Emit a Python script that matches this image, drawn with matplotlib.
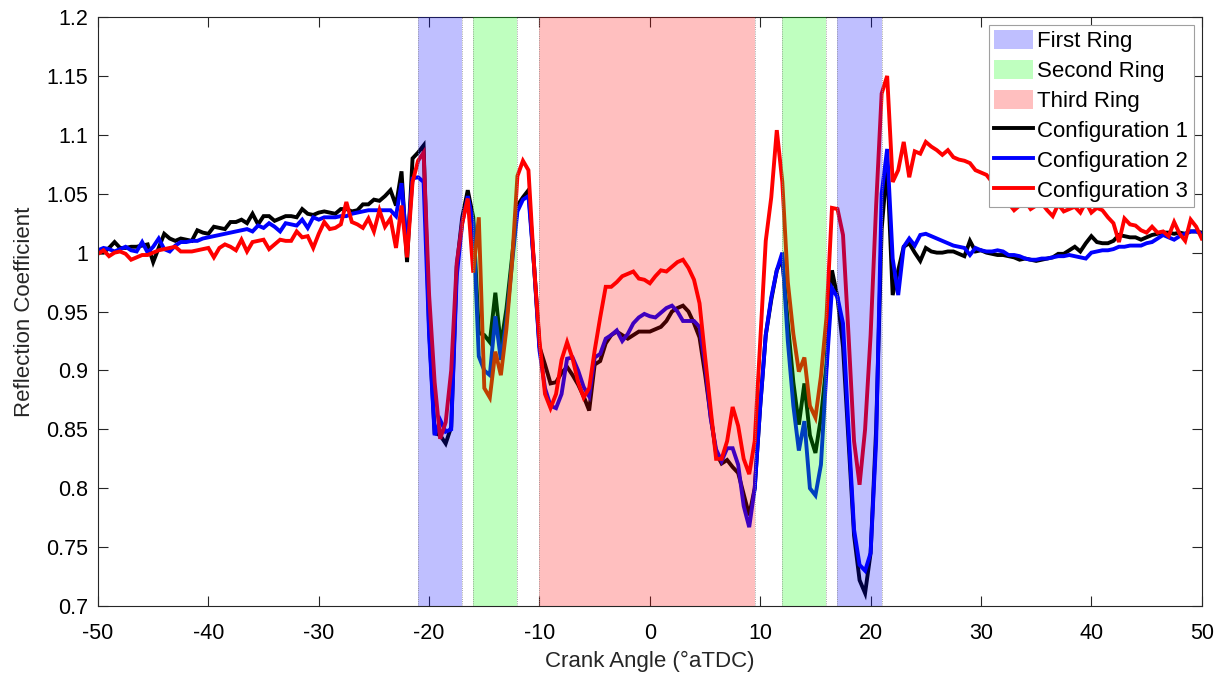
import numpy as np
import matplotlib
matplotlib.use("Agg")
import matplotlib.pyplot as plt

plt.rcParams['font.family'] = ['Liberation Sans', 'DejaVu Sans']

# Crank angle grid (degrees after TDC), 0.5 degree resolution
angle_start, angle_stop, angle_step = -50.0, 50.0, 0.5
crank_angle = np.arange(angle_start, angle_stop + angle_step / 2, angle_step)

config1 = [
    1.000, 1.000, 1.004, 1.009, 1.004, 1.004, 1.005, 1.005, 1.006, 1.007,
    0.992, 1.004, 1.016, 1.012, 1.010, 1.012, 1.011, 1.010, 1.019, 1.017,
    1.016, 1.022, 1.021, 1.020, 1.026, 1.026, 1.028, 1.025, 1.033, 1.024,
    1.031, 1.031, 1.027, 1.029, 1.031, 1.031, 1.030, 1.037, 1.033, 1.032,
    1.034, 1.035, 1.034, 1.033, 1.037, 1.037, 1.035, 1.036, 1.041, 1.041,
    1.045, 1.044, 1.048, 1.053, 1.040, 1.069, 0.992, 1.080, 1.085, 1.091,
    0.935, 0.847, 0.845, 0.838, 0.852, 0.988, 1.030, 1.053, 1.030, 0.932,
    0.930, 0.924, 0.966, 0.921, 0.952, 0.995, 1.040, 1.047, 1.053, 0.990,
    0.920, 0.905, 0.889, 0.890, 0.898, 0.903, 0.896, 0.888, 0.878, 0.866,
    0.905, 0.908, 0.923, 0.930, 0.933, 0.930, 0.927, 0.930, 0.933, 0.933,
    0.933, 0.935, 0.937, 0.942, 0.950, 0.953, 0.955, 0.950, 0.940, 0.928,
    0.897, 0.862, 0.830, 0.821, 0.824, 0.818, 0.813, 0.795, 0.777, 0.800,
    0.870, 0.930, 0.960, 0.985, 0.995, 0.940, 0.890, 0.854, 0.889, 0.845,
    0.830, 0.860, 0.905, 0.985, 0.962, 0.920, 0.840, 0.760, 0.722, 0.711,
    0.745, 0.850, 1.020, 1.075, 0.964, 0.985, 1.005, 1.008, 1.000, 0.993,
    1.004, 1.001, 1.000, 1.000, 1.001, 1.001, 0.999, 0.997, 1.010, 1.001,
    1.002, 1.000, 0.999, 0.998, 0.998, 0.997, 0.996, 0.994, 0.995, 0.994,
    0.993, 0.994, 0.995, 0.996, 0.999, 0.999, 1.002, 1.005, 1.001, 1.008,
    1.014, 1.009, 1.008, 1.008, 1.010, 1.015, 1.014, 1.013, 1.013, 1.011,
    1.013, 1.015, 1.016, 1.017, 1.017, 1.016, 1.017, 1.016, 1.018, 1.018,
    1.017,
]

config2 = [
    1.002, 1.004, 1.003, 1.001, 1.003, 1.005, 1.002, 1.001, 1.009, 1.000,
    1.005, 1.012, 1.003, 1.001, 1.006, 1.009, 1.009, 1.010, 1.010, 1.012,
    1.013, 1.014, 1.015, 1.016, 1.017, 1.018, 1.019, 1.020, 1.018, 1.023,
    1.021, 1.025, 1.022, 1.018, 1.025, 1.024, 1.023, 1.028, 1.021, 1.030,
    1.028, 1.030, 1.030, 1.030, 1.031, 1.031, 1.033, 1.034, 1.035, 1.036,
    1.036, 1.036, 1.036, 1.036, 1.031, 1.059, 1.003, 1.063, 1.064, 1.060,
    0.930, 0.845, 0.858, 0.848, 0.850, 0.980, 1.025, 1.048, 1.025, 0.912,
    0.900, 0.896, 0.946, 0.909, 0.942, 0.990, 1.035, 1.045, 1.048, 0.990,
    0.917, 0.885, 0.870, 0.868, 0.880, 0.910, 0.911, 0.900, 0.886, 0.878,
    0.911, 0.914, 0.927, 0.930, 0.934, 0.925, 0.931, 0.940, 0.945, 0.948,
    0.946, 0.945, 0.949, 0.953, 0.955, 0.950, 0.942, 0.942, 0.942, 0.937,
    0.905, 0.860, 0.833, 0.823, 0.834, 0.834, 0.820, 0.785, 0.767, 0.800,
    0.870, 0.930, 0.962, 0.985, 1.000, 0.925, 0.870, 0.832, 0.857, 0.800,
    0.794, 0.820, 0.900, 0.970, 0.962, 0.940, 0.850, 0.765, 0.735, 0.730,
    0.745, 0.840, 1.050, 1.088, 0.995, 0.964, 1.005, 1.012, 1.006, 1.015,
    1.016, 1.014, 1.012, 1.010, 1.008, 1.006, 1.005, 1.004, 0.998, 1.004,
    1.002, 1.001, 1.001, 1.002, 1.001, 0.998, 0.998, 0.997, 0.995, 0.994,
    0.994, 0.995, 0.995, 0.996, 0.997, 0.997, 0.998, 0.997, 0.996, 0.995,
    1.000, 1.001, 1.002, 1.002, 1.003, 1.005, 1.005, 1.006, 1.006, 1.006,
    1.008, 1.009, 1.012, 1.015, 1.013, 1.011, 1.014, 1.016, 1.018, 1.018,
    1.016,
]

config3 = [
    0.999, 1.002, 0.997, 1.000, 1.001, 0.999, 0.994, 0.996, 0.998, 0.998,
    1.000, 1.002, 1.003, 1.004, 1.005, 1.001, 1.001, 1.001, 1.002, 1.003,
    1.004, 0.996, 1.004, 1.007, 1.005, 1.002, 1.011, 1.001, 1.009, 1.010,
    1.011, 1.003, 1.007, 1.011, 1.010, 1.010, 1.018, 1.013, 1.014, 1.004,
    1.016, 1.026, 1.020, 1.021, 1.024, 1.043, 1.026, 1.024, 1.021, 1.029,
    1.018, 1.036, 1.022, 1.029, 1.004, 1.040, 0.996, 1.060, 1.078, 1.085,
    0.964, 0.890, 0.842, 0.856, 0.900, 0.991, 1.025, 1.046, 0.983, 1.030,
    0.885, 0.877, 0.916, 0.896, 0.935, 0.990, 1.065, 1.078, 1.070, 0.990,
    0.925, 0.880, 0.868, 0.880, 0.909, 0.924, 0.910, 0.890, 0.877, 0.885,
    0.917, 0.945, 0.971, 0.971, 0.975, 0.980, 0.982, 0.984, 0.978, 0.977,
    0.974, 0.980, 0.985, 0.984, 0.988, 0.992, 0.994, 0.987, 0.977, 0.957,
    0.912, 0.868, 0.825, 0.825, 0.840, 0.869, 0.853, 0.825, 0.812, 0.840,
    0.925, 1.010, 1.047, 1.104, 1.060, 0.975, 0.931, 0.899, 0.911, 0.870,
    0.860, 0.895, 0.945, 1.038, 1.037, 1.015, 0.930, 0.840, 0.803, 0.850,
    0.930, 1.040, 1.135, 1.150, 1.060, 1.070, 1.094, 1.064, 1.086, 1.084,
    1.094, 1.090, 1.087, 1.083, 1.087, 1.081, 1.079, 1.078, 1.076, 1.070,
    1.068, 1.066, 1.060, 1.054, 1.050, 1.042, 1.036, 1.040, 1.044, 1.037,
    1.040, 1.042, 1.036, 1.031, 1.041, 1.035, 1.037, 1.039, 1.034, 1.043,
    1.034, 1.038, 1.036, 1.030, 1.025, 1.009, 1.029, 1.024, 1.023, 1.019,
    1.017, 1.022, 1.017, 1.018, 1.014, 1.026, 1.016, 1.010, 1.028, 1.022,
    1.012,
]

# Piston ring passage windows (crank angle limits) and their labels
ring_labels = ["First Ring", "Second Ring", "Third Ring"]
ring_colors = ["#0000ff", "#00ff00", "#ff0000"]
ring_windows = [
    [(-21.0, -17.0), (17.0, 21.0)],
    [(-16.0, -12.0), (12.0, 16.0)],
    [(-10.0, 9.5)],
]

series_labels = ["Configuration 1", "Configuration 2", "Configuration 3"]
series_colors = ["#000000", "#0000ff", "#ff0000"]

x_ticks = [-50, -40, -30, -20, -10, 0, 10, 20, 30, 40, 50]
y_ticks = [0.7, 0.75, 0.8, 0.85, 0.9, 0.95, 1.0, 1.05, 1.1, 1.15, 1.2]
y_tick_labels = ["0.7", "0.75", "0.8", "0.85", "0.9", "0.95", "1", "1.05",
                 "1.1", "1.15", "1.2"]

fig = plt.figure(figsize=(12.25, 6.81), dpi=100)
ax = fig.add_axes([0.080, 0.110, 0.901, 0.865])

line_handles = []
for values, label, color in zip([config1, config2, config3],
                                series_labels, series_colors):
    h, = ax.plot(crank_angle, values, color=color, lw=2.8, label=label,
                 zorder=2, solid_joinstyle='miter')
    line_handles.append(h)

patch_handles = []
for label, color, windows in zip(ring_labels, ring_colors, ring_windows):
    for k, (a, b) in enumerate(windows):
        p = ax.axvspan(a, b, facecolor=color, alpha=0.25, edgecolor='none',
                       zorder=3, label=label if k == 0 else None)
        for edge in (a, b):
            ax.axvline(edge, color='#888888', lw=0.6, ls=':', zorder=3)
        if k == 0:
            patch_handles.append(p)

ax.set_xlim(angle_start, angle_stop)
ax.set_ylim(0.7, 1.2)
ax.set_xticks(x_ticks)
ax.set_xticklabels([str(t) for t in x_ticks])
ax.set_yticks(y_ticks)
ax.set_yticklabels(y_tick_labels)

ax.tick_params(direction='in', length=7, width=0.8, top=True, right=True,
               labelsize=15.5, colors='#262626', labelcolor='black')
ax.tick_params(axis='x', pad=12)
ax.tick_params(axis='y', pad=7)
for spine in ax.spines.values():
    spine.set_color('#262626')
    spine.set_linewidth(0.8)

ax.set_xlabel("Crank Angle (°aTDC)", fontsize=16, color='#262626', labelpad=5)
ax.set_ylabel("Reflection Coefficient", fontsize=16, color='#262626', labelpad=8)

leg = ax.legend(handles=patch_handles + line_handles, loc='upper right',
                fontsize=16, frameon=True, fancybox=False, framealpha=1,
                edgecolor='#a0a0a0', borderpad=0.25, labelspacing=0.36,
                handlelength=1.75, handleheight=0.9, handletextpad=0.2,
                borderaxespad=0.35)
leg.get_frame().set_linewidth(0.8)
leg.set_zorder(5)

fig.savefig("out.png", dpi=100, facecolor='white')
